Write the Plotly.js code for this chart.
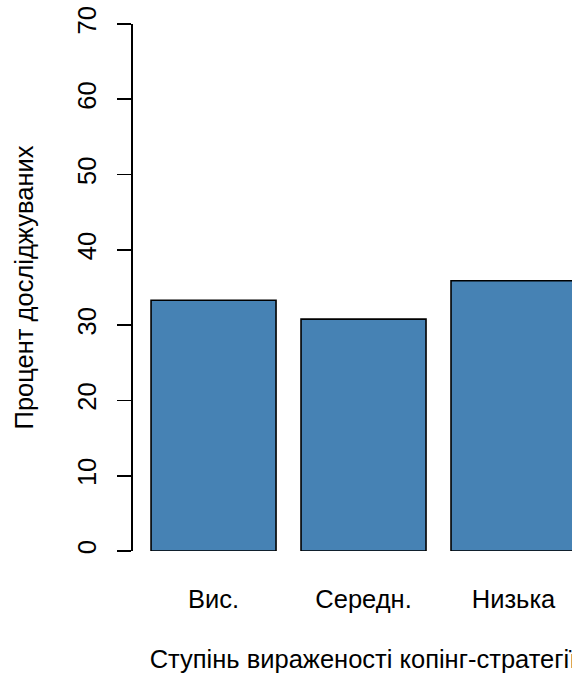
<!DOCTYPE html>
<html>
<head>
<meta charset="utf-8">
<script src="https://cdn.plot.ly/plotly-3.0.1.min.js"></script>
<style>
html,body{margin:0;padding:0;overflow:hidden;background:#fff;}
#chart{width:620px;height:677px;}
</style>
</head>
<body>
<div id="chart"></div>
<script>
const categories = ["Вис.", "Середн.", "Низька"];
const percentValues = [33.3, 30.8, 35.9];
const yTickValues = [0, 10, 20, 30, 40, 50, 60, 70];
const xTitle = "Ступінь вираженості копінг-стратегії";
const yTitle = "Процент досліджуваних";

const FONT = "Liberation Sans, Arial, sans-serif";
const FS = 25.5;

const trace = {
  type: "bar",
  x: categories,
  y: percentValues,
  marker: { color: "#4682B4", line: { color: "#000", width: 1.6 } },
  hoverinfo: "x+y"
};

const layout = {
  width: 620,
  height: 677,
  margin: { l: 133, r: 27, t: 24, b: 126 },
  paper_bgcolor: "#fff",
  plot_bgcolor: "#fff",
  font: { family: FONT, size: FS, color: "#000" },
  bargap: 0.1667,
  showlegend: false,
  xaxis: {
    type: "category",
    range: [-0.537, 2.53],
    showline: false,
    showgrid: false,
    zeroline: false,
    ticks: "",
    ticklabelstandoff: 30,
    tickfont: { family: FONT, size: FS, color: "#000" },
    title: { text: xTitle, font: { family: FONT, size: FS, color: "#000" }, standoff: 38 }
  },
  yaxis: {
    range: [0, 70],
    tickvals: yTickValues,
    ticktext: yTickValues.map(String),
    tickangle: -90,
    showline: true,
    linecolor: "#000",
    linewidth: 1.6,
    ticks: "outside",
    ticklen: 14,
    tickwidth: 1.6,
    tickcolor: "#000",
    showgrid: false,
    zeroline: false,
    ticklabelstandoff: 11,
    tickfont: { family: FONT, size: FS, color: "#000" },
    title: { text: yTitle, font: { family: FONT, size: FS, color: "#000" }, standoff: 32 }
  }
};

Plotly.newPlot("chart", [trace], layout, { staticPlot: true, displayModeBar: false });
</script>
</body>
</html>
